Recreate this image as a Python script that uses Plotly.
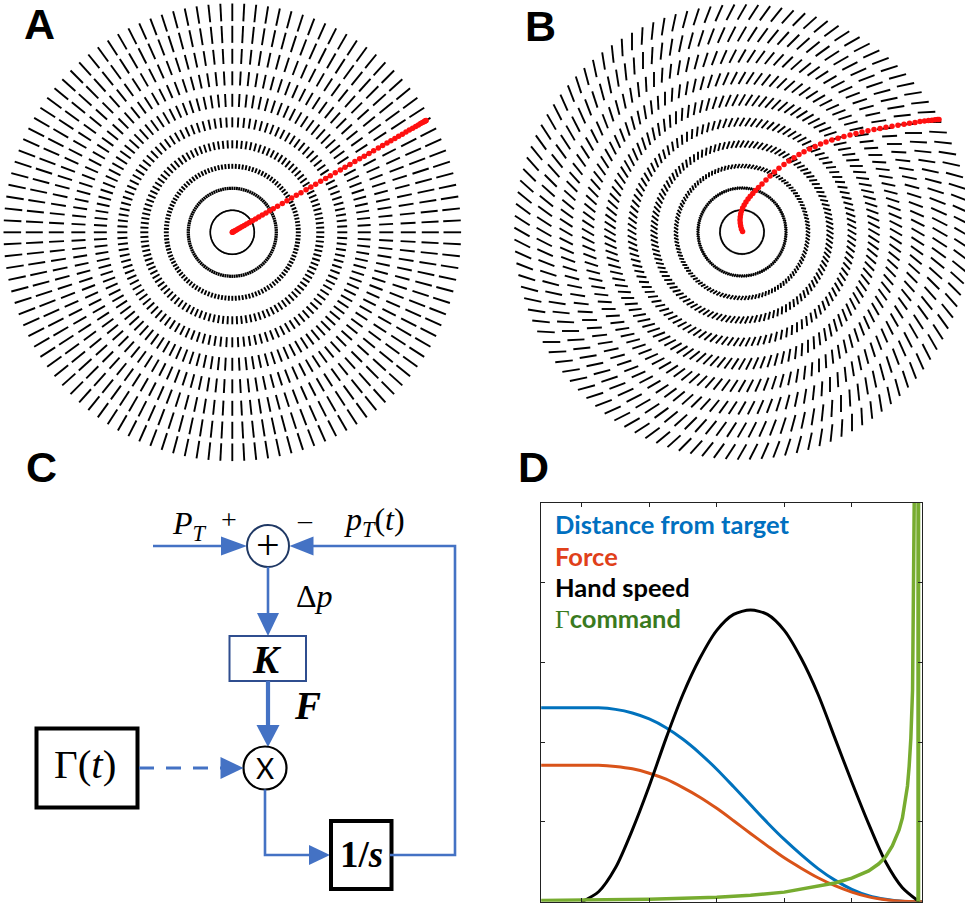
import numpy as np
import plotly.graph_objects as go

W, H = 965, 904

# ---------------- Panels A & B : force-field rings (units: cm) ----------------
ring_radius_cm = [2, 4, 6, 8, 10, 12, 14, 16, 18, 20]
ring_dash_len_cm = [0.14, 0.30, 0.45, 0.73, 0.91, 1.18, 1.27, 1.36, 1.55, 1.60]
n_field_directions = 120
field_rotation_a_deg = 0.0
field_rotation_b_deg = -30.0

# Panel A hand path: straight reach along 30 deg, distance of each sample (cm)
traj_a_angle_deg = 30.0
traj_a_dist_cm = [0, 0.03, 0.09, 0.18, 0.29, 0.43, 0.59, 0.78, 1.0, 1.25, 1.51, 1.8, 2.11,
                  2.44, 2.78, 3.15, 3.53, 3.91, 4.3, 4.75, 5.25, 5.74, 6.23, 6.72, 7.21,
                  7.74, 8.25, 8.75, 9.27, 9.8, 10.29, 10.81, 11.34, 11.83, 12.35, 12.87,
                  13.36, 13.85, 14.35, 14.84, 15.33, 15.78, 16.24, 16.65, 17.07, 17.46,
                  17.85, 18.23, 18.58, 18.93, 19.25, 19.53, 19.76, 19.96, 20.12, 20.23,
                  20.3, 20.34]

# Panel B hand path (curl field), samples (cm)
traj_b_x_cm = [0.05, -0.05, -0.12, -0.16, -0.18, -0.16, -0.12, -0.05, 0.06, 0.2, 0.36, 0.55,
               0.75, 0.98, 1.23, 1.5, 1.82, 2.18, 2.55, 2.95, 3.36, 3.82, 4.27, 4.73, 5.18,
               5.64, 6.14, 6.64, 7.14, 7.64, 8.18, 8.73, 9.27, 9.82, 10.36, 10.91, 11.45,
               12.0, 12.55, 13.09, 13.64, 14.18, 14.73, 15.23, 15.73, 16.18, 16.59, 16.95,
               17.27, 17.55, 17.77, 17.91]
traj_b_y_cm = [0.05, 0.27, 0.55, 0.82, 1.09, 1.36, 1.64, 1.91, 2.18, 2.45, 2.73, 3.0, 3.25,
               3.5, 3.77, 4.05, 4.36, 4.73, 5.09, 5.45, 5.79, 6.14, 6.45, 6.75, 7.05, 7.3,
               7.55, 7.77, 8.0, 8.18, 8.36, 8.53, 8.68, 8.82, 8.95, 9.09, 9.2, 9.31, 9.42,
               9.52, 9.61, 9.7, 9.79, 9.88, 9.96, 10.04, 10.09, 10.14, 10.17, 10.2, 10.22,
               10.23]

# ---------------- Panel D : time courses (normalised units) ----------------
t_s = [-0.12, -0.06, 0.0, 0.05, 0.1, 0.15, 0.2, 0.25, 0.3, 0.35, 0.4, 0.45, 0.5, 0.55,
       0.6, 0.65, 0.7, 0.75, 0.8, 0.85, 0.9, 0.95, 1.0, 1.008]
dist_from_target = [0.486, 0.486, 0.486, 0.486, 0.482, 0.473, 0.458, 0.436, 0.407, 0.372,
                    0.332, 0.288, 0.243, 0.198, 0.156, 0.118, 0.083, 0.054, 0.031, 0.015,
                    0.006, 0.001, 0.0, 0.0]
force = [0.342, 0.342, 0.342, 0.342, 0.339, 0.333, 0.322, 0.307, 0.286, 0.262, 0.234, 0.203,
         0.171, 0.140, 0.110, 0.084, 0.060, 0.040, 0.024, 0.012, 0.005, 0.001, 0.0, 0.0]
speed_t_s = [0.0, 0.05, 0.1, 0.15, 0.2, 0.25, 0.3, 0.35, 0.4, 0.45, 0.5, 0.55, 0.6, 0.65,
             0.7, 0.75, 0.8, 0.85, 0.9, 0.95, 1.0]
hand_speed = [0.0, 0.025, 0.085, 0.18, 0.29, 0.41, 0.52, 0.61, 0.68, 0.72, 0.731, 0.72,
              0.68, 0.61, 0.52, 0.41, 0.30, 0.195, 0.10, 0.035, 0.0]
gamma_t_s = [-0.12, 0.0, 0.2, 0.4, 0.5, 0.6, 0.65, 0.7, 0.75, 0.8, 0.85, 0.88, 0.9, 0.92,
             0.94, 0.95, 0.96, 0.965, 0.97, 0.975, 0.98, 0.983, 0.985, 0.987]
gamma_command = [0.003, 0.004, 0.006, 0.011, 0.016, 0.024, 0.031, 0.038, 0.047, 0.059,
                 0.077, 0.095, 0.112, 0.14, 0.18, 0.21, 0.26, 0.29, 0.34, 0.41, 0.53, 0.72,
                 0.92, 1.2]
gamma_end_t_s = 0.997
d_xticks = [0.0, 0.2, 0.4, 0.6, 0.8]
d_yticks = [0.2, 0.4, 0.6, 0.8]
d_labels = ["Distance from target", "Force", "Hand speed", "\u0393command"]

panel_letters = ["A", "B", "C", "D"]

# ---------------- colours ----------------
C_BLUE_LINE = "#0072BD"
C_RED_LINE = "#D95319"
C_GREEN_LINE = "#77AC30"
C_DIAG = "#4472C4"
TXT_COLORS = ["#0070C0", "#E0401A", "#000000", "#3A7A1E"]

# ---------------- geometry (pixels) ----------------
PX_PER_CM = 11.0
A_CENTER = (232.3, 232.3)
B_CENTER = (742.0, 232.0)
TOP_ROW_BOTTOM = 466.0


def field_segments(rot_deg):
    xs, ys = [], []
    th = np.arange(n_field_directions) * 2 * np.pi / n_field_directions
    rot = np.deg2rad(rot_deg)
    for r, L in zip(ring_radius_cm, ring_dash_len_cm):
        for a in th:
            cx, cy = r * np.cos(a), r * np.sin(a)
            dx, dy = 0.5 * L * np.cos(a + rot), 0.5 * L * np.sin(a + rot)
            xs += [cx - dx, cx + dx, None]
            ys += [cy - dy, cy + dy, None]
    return xs, ys


def x_range(center_px, lo_px, hi_px):
    return [(lo_px - center_px) / PX_PER_CM, (hi_px - center_px) / PX_PER_CM]


def y_range(center_py, top_py, bot_py):
    return [(center_py - bot_py) / PX_PER_CM, (center_py - top_py) / PX_PER_CM]


fig = go.Figure()

# ---- Panel A ----
fx, fy = field_segments(field_rotation_a_deg)
fig.add_trace(go.Scatter(x=fx, y=fy, mode="lines", line=dict(color="black", width=1.9),
                         xaxis="x", yaxis="y", hoverinfo="skip", showlegend=False))
ang = np.deg2rad(traj_a_angle_deg)
fig.add_trace(go.Scatter(x=[d * np.cos(ang) for d in traj_a_dist_cm],
                         y=[d * np.sin(ang) for d in traj_a_dist_cm],
                         mode="markers", marker=dict(color="#FF1010", size=5.5, line=dict(width=0)),
                         xaxis="x", yaxis="y", hoverinfo="skip", showlegend=False))

# ---- Panel B ----
fx, fy = field_segments(field_rotation_b_deg)
fig.add_trace(go.Scatter(x=fx, y=fy, mode="lines", line=dict(color="black", width=1.9),
                         xaxis="x2", yaxis="y2", hoverinfo="skip", showlegend=False))
fig.add_trace(go.Scatter(x=traj_b_x_cm, y=traj_b_y_cm, mode="markers",
                         marker=dict(color="#FF1010", size=5.5, line=dict(width=0)),
                         xaxis="x2", yaxis="y2", hoverinfo="skip", showlegend=False))

# ---- Panel D ----
fig.add_trace(go.Scatter(x=t_s, y=dist_from_target, mode="lines",
                         line=dict(color=C_BLUE_LINE, width=3, shape="spline", smoothing=0.8),
                         xaxis="x4", yaxis="y4", showlegend=False))
fig.add_trace(go.Scatter(x=t_s, y=force, mode="lines",
                         line=dict(color=C_RED_LINE, width=3, shape="spline", smoothing=0.8),
                         xaxis="x4", yaxis="y4", showlegend=False))
fig.add_trace(go.Scatter(x=speed_t_s, y=hand_speed, mode="lines",
                         line=dict(color="black", width=3, shape="spline", smoothing=0.8),
                         xaxis="x4", yaxis="y4", showlegend=False))
fig.add_trace(go.Scatter(x=gamma_t_s, y=gamma_command, mode="lines",
                         line=dict(color=C_GREEN_LINE, width=3.5),
                         xaxis="x4", yaxis="y4", showlegend=False))
fig.add_trace(go.Scatter(x=[gamma_end_t_s, gamma_end_t_s], y=[0, 1.2], mode="lines",
                         line=dict(color=C_GREEN_LINE, width=4),
                         xaxis="x4", yaxis="y4", showlegend=False))

# ---- pixel canvas (panel C diagram + labels) ----
fig.add_trace(go.Scatter(x=[None], y=[None], xaxis="x3", yaxis="y3", showlegend=False,
                         hoverinfo="skip"))

shapes = []
annotations = []


def poly(pts, color, width, dash=None):
    path = "M " + " L ".join(f"{x},{y}" for x, y in pts)
    shapes.append(dict(type="path", path=path, xref="x3", yref="y3", layer="above",
                       line=dict(color=color, width=width, dash=dash),
                       fillcolor="rgba(0,0,0,0)"))


def head(tip, direction, length, half, color=C_DIAG):
    tx, ty = tip
    ux, uy = direction
    bx, by = tx - ux * length, ty - uy * length
    px, py = -uy * half, ux * half
    path = f"M {tx},{ty} L {bx + px},{by + py} L {bx - px},{by - py} Z"
    shapes.append(dict(type="path", path=path, xref="x3", yref="y3", layer="above",
                       line=dict(width=0), fillcolor=color))


def rect(x0, y0, x1, y1, color, width):
    shapes.append(dict(type="rect", x0=x0, y0=y0, x1=x1, y1=y1, xref="x3", yref="y3",
                       layer="above", line=dict(color=color, width=width),
                       fillcolor="rgba(0,0,0,0)"))


def circle(cx, cy, r, color, width):
    shapes.append(dict(type="circle", x0=cx - r, y0=cy - r, x1=cx + r, y1=cy + r,
                       xref="x3", yref="y3", layer="above",
                       line=dict(color=color, width=width), fillcolor="rgba(0,0,0,0)"))


def text(s, x, y, size, family, color="black", xanchor="center", yanchor="middle"):
    annotations.append(dict(text=s, x=x, y=y, xref="x3", yref="y3", showarrow=False,
                            xanchor=xanchor, yanchor=yanchor,
                            font=dict(family=family, size=size, color=color)))


SERIF = "Liberation Serif"

# summing junction
circle(268, 546, 21, "#1F3864", 2)
text("+", 268, 545, 42, SERIF)
# input P_T
poly([(153, 546), (224, 546)], C_DIAG, 2.6)
head((247, 546), (1, 0), 26, 9.5)
text("<i>P</i><sub><i>T</i></sub>", 189, 525, 32, SERIF)
text("+", 229, 519, 28, SERIF)
text("\u2013", 305, 519, 28, SERIF)
text("<i>p</i><sub><i>T</i></sub>(<i>t</i>)", 374, 521, 32, SERIF)
# junction -> K
poly([(268, 567), (268, 614)], C_DIAG, 2.6)
head((268, 636), (0, 1), 23, 11)
text("\u0394<i>p</i>", 314, 596, 32, SERIF)
# K box
rect(229.5, 636, 306, 681, "#2F4E8F", 2)
text("<b><i>K</i></b>", 267, 659, 39, SERIF)
# K -> X (thick)
poly([(268, 681), (268, 728)], C_DIAG, 4.2)
head((268, 747), (0, 1), 22, 11.5)
text("<b><i>F</i></b>", 307, 705, 39, SERIF)
# multiplier
circle(265, 768, 21.5, "black", 2.2)
text("X", 265, 768, 28, "Lato")
# Gamma box + dashed arrow
rect(36.5, 728.5, 137.5, 807.5, "black", 4)
text("\u0393(<i>t</i>)", 85, 764, 41, SERIF)
poly([(139, 768), (222, 768)], C_DIAG, 3.2, dash="15px,12px")
head((243.5, 768), (1, 0), 23, 11)
# X -> 1/s
poly([(265, 789.5), (265, 855), (310, 855)], C_DIAG, 2.6)
head((330, 855), (1, 0), 21, 10)
rect(331, 821, 391.5, 889, "black", 4)
text("<b>1/</b><b><i>s</i></b>", 361, 854, 37, SERIF)
# feedback
poly([(390, 855), (455, 855), (455, 546), (311, 546)], C_DIAG, 2.6)
head((289.5, 546), (-1, 0), 24, 9.5)

# Panel D labels
for i, (lab, col) in enumerate(zip(d_labels, TXT_COLORS)):
    if lab.startswith("\u0393"):
        s = f"<span style='font-family:{SERIF};font-weight:normal'>\u0393</span><b>{lab[1:]}</b>"
    else:
        s = f"<b>{lab}</b>"
    text(s, 553, 524 + i * 31.5, 25.5, "Lato", color=col, xanchor="left")

# panel letters
for lab, (x, y) in zip(panel_letters, [(22, 24), (523, 26), (24, 467), (516, 467)]):
    text(f"<b>{lab}</b>", x, y, 43, "Liberation Sans", xanchor="left")

# ---------------- layout ----------------
D_L, D_R, D_T, D_B = 541.0, 922.0, 502.7, 901.7
hidden = dict(visible=False, showgrid=False, zeroline=False)

fig.update_layout(
    width=W, height=H, margin=dict(l=0, r=0, t=0, b=0),
    paper_bgcolor="white", plot_bgcolor="rgba(0,0,0,0)", showlegend=False,
    xaxis=dict(domain=[0, 470 / W], range=x_range(A_CENTER[0], 0, 470), **hidden),
    yaxis=dict(domain=[1 - TOP_ROW_BOTTOM / H, 1],
               range=y_range(A_CENTER[1], 0, TOP_ROW_BOTTOM), **hidden),
    xaxis2=dict(domain=[495 / W, 1], range=x_range(B_CENTER[0], 495, W), **hidden),
    yaxis2=dict(domain=[1 - TOP_ROW_BOTTOM / H, 1],
                range=y_range(B_CENTER[1], 0, TOP_ROW_BOTTOM), **hidden),
    xaxis3=dict(domain=[0, 1], range=[0, W], **hidden),
    yaxis3=dict(domain=[0, 1], range=[H, 0], **hidden),
    xaxis4=dict(domain=[D_L / W, D_R / W], range=[-0.1206, 1.008], showgrid=False,
                zeroline=False, showline=True, linecolor="#222", linewidth=1, mirror="ticks",
                ticks="inside", ticklen=4, tickcolor="#222", tickvals=d_xticks,
                showticklabels=False, anchor="y4"),
    yaxis4=dict(domain=[(H - D_B) / H, (H - D_T) / H], range=[0, 1], showgrid=False,
                zeroline=False, showline=True, linecolor="#222", linewidth=1, mirror="ticks",
                ticks="inside", ticklen=4, tickcolor="#222", tickvals=d_yticks,
                showticklabels=False, anchor="x4"),
    shapes=shapes,
    annotations=annotations,
)

fig.write_html("out.html")
